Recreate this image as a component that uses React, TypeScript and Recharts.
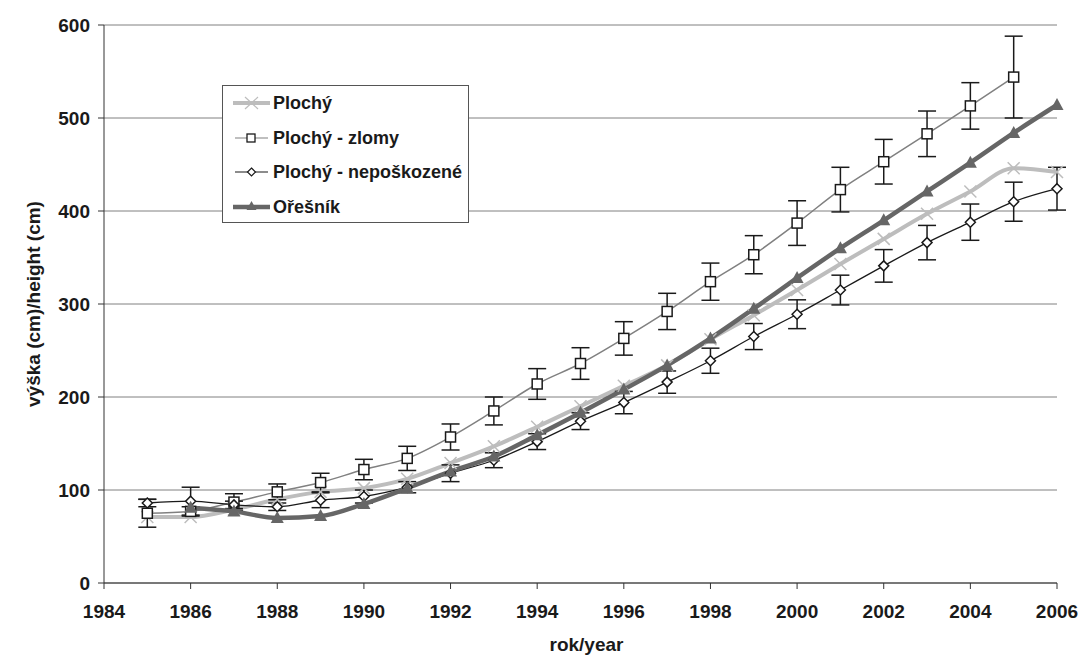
import React from "react";
import { LineChart, Line, XAxis, YAxis, CartesianGrid, ErrorBar } from "recharts";

const years = [1985, 1986, 1987, 1988, 1989, 1990, 1991, 1992, 1993, 1994, 1995, 1996, 1997, 1998, 1999, 2000, 2001, 2002, 2003, 2004, 2005, 2006];
const plochy = [71, 71, 79, 90, 98, 102, 112, 129, 147, 168, 190, 212, 234, 262, 288, 315, 343, 370, 397, 421, 446, 442];
const zlomy = [75, 77, 87, 98, 108, 122, 134, 157, 185, 214, 236, 263, 292, 324, 353, 387, 423, 453, 483, 513, 544, null];
const zlomyErr = [15, 5, 9, 8.5, 10, 11, 13, 14, 15, 16.5, 17, 18, 19.5, 20, 20.5, 24, 24, 24, 24.5, 25, 44, null];
const neposkozene = [86, 88, 84, 82, 89, 93, 103, 118, 132, 152, 174, 194, 216, 239, 265, 289, 315, 341, 366, 388, 410, 424];
const neposkozeneErr = [4, 15, 4, 4, 8, 7, 6, 9, 8, 8.5, 9, 12, 12, 13.5, 14, 15.5, 16, 17.5, 18.5, 19.5, 21, 23];
const oresnik = [null, 81, 77, 70, 72, 85, 102, 120, 136, 159, 183, 208, 234, 263, 295, 328, 360, 390, 421, 452, 484, 514];

const xTicks = [1984, 1986, 1988, 1990, 1992, 1994, 1996, 1998, 2000, 2002, 2004, 2006];
const yTicks = [0, 100, 200, 300, 400, 500, 600];

const data = years.map((year, i) => ({
  year,
  plochy: plochy[i],
  zlomy: zlomy[i],
  zlomyErr: zlomyErr[i],
  neposkozene: neposkozene[i],
  neposkozeneErr: neposkozeneErr[i],
  oresnik: oresnik[i],
}));

const FONT = "'Liberation Sans', Arial, sans-serif";
const TEXT = "#1a1a1a";
const C_PLOCHY = "#bdbdbd";
const C_ZLOMY = "#808080";
const C_NEPO = "#1a1a1a";
const C_ORESNIK = "#666666";

const empty = (key: string) => <g key={key} />;

const CrossDot = (p: any) => {
  const { cx, cy, value, index } = p;
  if (value == null || cy == null) return empty(`x-${index}`);
  const r = 6;
  return (
    <path
      key={`x-${index}`}
      d={`M${cx - r},${cy - r}L${cx + r},${cy + r}M${cx - r},${cy + r}L${cx + r},${cy - r}`}
      stroke={C_PLOCHY}
      strokeWidth={1.5}
      fill="none"
    />
  );
};

const SquareDot = (p: any) => {
  const { cx, cy, value, index } = p;
  if (value == null || cy == null) return empty(`s-${index}`);
  return <rect key={`s-${index}`} x={cx - 5} y={cy - 5} width={10} height={10} fill="#fff" stroke="#1a1a1a" strokeWidth={1.5} />;
};

const DiamondDot = (p: any) => {
  const { cx, cy, value, index } = p;
  if (value == null || cy == null) return empty(`d-${index}`);
  const r = 5;
  return (
    <path
      key={`d-${index}`}
      d={`M${cx},${cy - r}L${cx + r},${cy}L${cx},${cy + r}L${cx - r},${cy}Z`}
      fill="#fff"
      stroke="#1a1a1a"
      strokeWidth={1.5}
    />
  );
};

const TriangleDot = (p: any) => {
  const { cx, cy, value, index } = p;
  if (value == null || cy == null) return empty(`t-${index}`);
  return <path key={`t-${index}`} d={`M${cx},${cy - 7}L${cx + 6.5},${cy + 5}L${cx - 6.5},${cy + 5}Z`} fill={C_ORESNIK} />;
};

const legendItems = [
  { name: "Plochý", kind: "cross" },
  { name: "Plochý - zlomy", kind: "square" },
  { name: "Plochý - nepoškozené", kind: "diamond" },
  { name: "Ořešník", kind: "triangle" },
];

const LegendIcon = ({ kind }: { kind: string }) => {
  let line = null;
  let mark = null;
  if (kind === "cross") {
    line = <line x1={0} y1={8} x2={37} y2={8} stroke={C_PLOCHY} strokeWidth={4} />;
    mark = <path d="M12,2L25,14M12,14L25,2" stroke={C_PLOCHY} strokeWidth={1.2} />;
  } else if (kind === "square") {
    line = <line x1={2} y1={8} x2={35} y2={8} stroke={C_ZLOMY} strokeWidth={1.2} />;
    mark = <rect x={14} y={4} width={8} height={8} fill="#fff" stroke="#1a1a1a" strokeWidth={1.3} />;
  } else if (kind === "diamond") {
    line = <line x1={2} y1={8} x2={35} y2={8} stroke={C_NEPO} strokeWidth={1.2} />;
    mark = <path d="M18.5,4L22.5,8L18.5,12L14.5,8Z" fill="#fff" stroke="#1a1a1a" strokeWidth={1.2} />;
  } else {
    line = <line x1={0} y1={8} x2={37} y2={8} stroke={C_ORESNIK} strokeWidth={4.5} />;
    mark = <path d="M18.5,2L23.5,11L13.5,11Z" fill={C_ORESNIK} />;
  }
  return (
    <svg width={37} height={16} style={{ display: "block" }}>
      {line}
      {mark}
    </svg>
  );
};

const LegendBox = () => (
  <div
    style={{
      position: "absolute",
      left: 222,
      top: 85,
      width: 245,
      height: 136,
      border: "1px solid #555",
      background: "#fff",
      fontFamily: FONT,
      fontWeight: "bold",
      fontSize: 18,
      color: TEXT,
    }}
  >
    {legendItems.map((it, i) => (
      <div key={it.name} style={{ position: "absolute", left: 10, top: 8 + i * 34.5, height: 18, display: "flex", alignItems: "center" }}>
        <LegendIcon kind={it.kind} />
        <span style={{ marginLeft: 3, whiteSpace: "nowrap", lineHeight: "18px" }}>{it.name}</span>
      </div>
    ))}
  </div>
);

const YTitle = (props: any) => {
  const vb = props.viewBox || {};
  const x = 33;
  const y = vb.y + vb.height / 2;
  return (
    <text x={x} y={y} transform={`rotate(-90, ${x}, ${y})`} textAnchor="middle" dominantBaseline="central" fontFamily={FONT} fontWeight="bold" fontSize={19} fill={TEXT}>
      výška (cm)/height (cm)
    </text>
  );
};

const XTitle = (props: any) => {
  const vb = props.viewBox || {};
  const x = vb.x + vb.width / 2 + 6;
  return (
    <text x={x} y={651} textAnchor="middle" fontFamily={FONT} fontWeight="bold" fontSize={19} fill={TEXT}>
      rok/year
    </text>
  );
};

const tickStyle = { fontFamily: FONT, fontWeight: "bold", fontSize: 19, fill: TEXT };

export default function App() {
  return (
    <div style={{ position: "absolute", left: 0, top: 0, width: 1081, height: 666, background: "#fff" }}>
      <LineChart width={1081} height={666} data={data} margin={{ top: 25, right: 24, bottom: 0, left: 0 }}>
        <CartesianGrid vertical={false} stroke="#808080" strokeWidth={1} />
        <XAxis
          dataKey="year"
          type="number"
          domain={[1984, 2006]}
          ticks={xTicks}
          height={83}
          tickSize={6}
          tickMargin={16}
          stroke="#333"
          tick={tickStyle}
          interval={0}
          label={<XTitle />}
        />
        <YAxis
          domain={[0, 600]}
          ticks={yTicks}
          width={104}
          tickSize={6}
          tickMargin={8}
          stroke="#333"
          tick={tickStyle}
          interval={0}
          label={<YTitle />}
        />
        <Line
          dataKey="plochy"
          name="Plochý"
          type="monotone"
          stroke={C_PLOCHY}
          strokeWidth={4}
          dot={CrossDot}
          activeDot={false}
          isAnimationActive={false}
        />
        <Line
          dataKey="zlomy"
          name="Plochý - zlomy"
          type="monotone"
          stroke={C_ZLOMY}
          strokeWidth={1.5}
          dot={SquareDot}
          activeDot={false}
          isAnimationActive={false}
        >
          <ErrorBar dataKey="zlomyErr" direction="y" width={9} stroke="#1a1a1a" strokeWidth={1.5} isAnimationActive={false} />
        </Line>
        <Line
          dataKey="neposkozene"
          name="Plochý - nepoškozené"
          type="monotone"
          stroke={C_NEPO}
          strokeWidth={1.3}
          dot={DiamondDot}
          activeDot={false}
          isAnimationActive={false}
        >
          <ErrorBar dataKey="neposkozeneErr" direction="y" width={9} stroke="#1a1a1a" strokeWidth={1.5} isAnimationActive={false} />
        </Line>
        <Line
          dataKey="oresnik"
          name="Ořešník"
          type="monotone"
          stroke={C_ORESNIK}
          strokeWidth={4.5}
          dot={TriangleDot}
          activeDot={false}
          isAnimationActive={false}
        />
      </LineChart>
      <LegendBox />
    </div>
  );
}
